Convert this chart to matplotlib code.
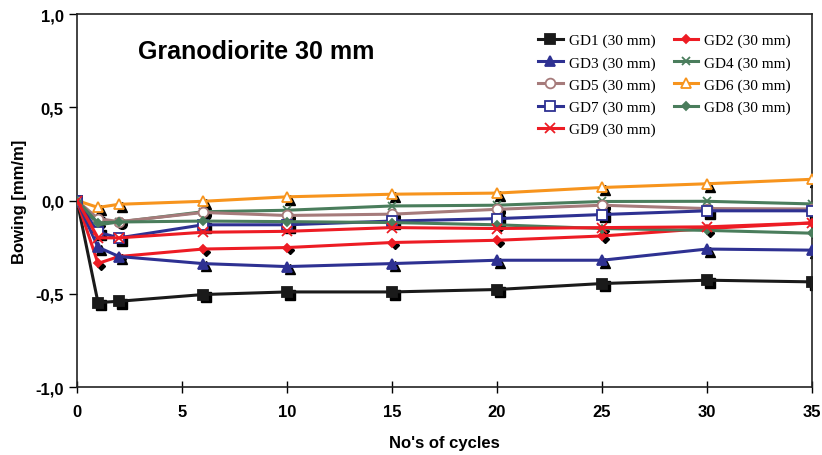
import matplotlib
matplotlib.use('Agg')
import matplotlib.pyplot as plt
import matplotlib.transforms as mtransforms
from matplotlib.ticker import FuncFormatter

cycles = [0, 1, 2, 6, 10, 15, 20, 25, 30, 35]
gd1 = [0, -0.547, -0.540, -0.504, -0.490, -0.490, -0.477, -0.445, -0.427, -0.436]
gd2 = [0, -0.337, -0.300, -0.260, -0.252, -0.225, -0.213, -0.190, -0.150, -0.120]
gd3 = [0, -0.250, -0.300, -0.338, -0.354, -0.338, -0.320, -0.320, -0.260, -0.266]
gd4 = [0, -0.130, -0.115, -0.060, -0.052, -0.029, -0.025, -0.005, -0.004, -0.018]
gd5 = [0, -0.097, -0.113, -0.064, -0.080, -0.073, -0.047, -0.025, -0.043, -0.045]
gd6 = [0, -0.037, -0.020, -0.004, 0.020, 0.034, 0.040, 0.070, 0.090, 0.114]
gd7 = [0, -0.170, -0.200, -0.130, -0.130, -0.110, -0.097, -0.075, -0.055, -0.055]
gd8 = [0, -0.120, -0.115, -0.110, -0.113, -0.118, -0.130, -0.150, -0.160, -0.175]
gd9 = [0, -0.200, -0.200, -0.170, -0.165, -0.145, -0.150, -0.145, -0.141, -0.120]

labels = ['GD1 (30 mm)', 'GD2 (30 mm)', 'GD3 (30 mm)', 'GD4 (30 mm)',
          'GD5 (30 mm)', 'GD6 (30 mm)', 'GD7 (30 mm)', 'GD8 (30 mm)',
          'GD9 (30 mm)']
series = [gd1, gd2, gd3, gd4, gd5, gd6, gd7, gd8, gd9]

# Stil je Reihe: Farbe, Marker, Füllung
styles = [
    ('#1a1a1a', 's', '#1a1a1a'),
    ('#ed1c24', 'D', '#ed1c24'),
    ('#2e3192', '^', '#2e3192'),
    ('#4a7d5c', 'x', 'none'),
    ('#a67b7b', 'o', 'white'),
    ('#f7941d', '^', 'white'),
    ('#2e3192', 's', 'white'),
    ('#4a7d5c', 'D', '#4a7d5c'),
    ('#ed1c24', 'x', 'none'),
]
sizes = [7, 4.5, 7, 6, 7, 7, 7, 4, 7]

fig = plt.figure(figsize=(8.22, 4.56), dpi=100)
ax = fig.add_axes([0.0937, 0.149, 0.894, 0.818])

# Schatten der Marker (leicht versetzt, schwarz)
shadow = ax.transData + mtransforms.ScaledTranslation(2 / 72, -2 / 72, fig.dpi_scale_trans)
for y, (c, m, fc), ms in zip(series, styles, sizes):
    if m == 'x':
        continue
    ax.plot(cycles[1:], y[1:], linestyle='none', marker=m, ms=ms,
            color='black', transform=shadow, zorder=2)

handles = []
for y, lab, (c, m, fc), ms in zip(series, labels, styles, sizes):
    h, = ax.plot(cycles, y, color=c, lw=2.2, marker=m, ms=ms, mfc=fc, mec=c,
                 mew=1.3, label=lab, zorder=3)
    handles.append(h)

ax.set_xlim(0, 35)
ax.set_ylim(-1.0, 1.0)
ax.set_xticks(range(0, 36, 5))
ax.set_yticks([-1.0, -0.5, 0.0, 0.5, 1.0])
ax.yaxis.set_major_formatter(FuncFormatter(lambda v, p: ('%.1f' % v).replace('.', ',')))
ax.tick_params(axis='x', direction='inout', length=8, width=1)
ax.tick_params(axis='y', direction='out', length=6, width=1)
ax.tick_params(labelsize=12)
for lab in ax.get_xticklabels() + ax.get_yticklabels():
    lab.set_fontweight('bold')
    lab.set_fontfamily('Liberation Sans')
ax.tick_params(axis='x', pad=8)
for sp in ax.spines.values():
    sp.set_linewidth(1.2)
    sp.set_color('#222222')

ax.set_xlabel("No's of cycles", fontsize=12, fontweight='bold',
              family='Liberation Sans', labelpad=12)
ax.set_ylabel('Bowing [mm/m]', fontsize=12, fontweight='bold',
              family='Liberation Sans', labelpad=6)

ax.text(0.083, 0.90, 'Granodiorite 30 mm', transform=ax.transAxes,
        fontsize=18, fontweight='bold', family='Liberation Sans', va='center')

# Legende zeilenweise sortiert (GD1 GD2 / GD3 GD4 / ...)
order = [0, 2, 4, 6, 8, 1, 3, 5, 7]
leg = ax.legend([handles[i] for i in order], [labels[i] for i in order],
                ncol=2, loc='upper right', bbox_to_anchor=(0.99, 0.985),
                frameon=False, prop={'family': 'Liberation Serif', 'size': 11},
                handlelength=1.6, columnspacing=1.2, labelspacing=0.55,
                handletextpad=0.4)

fig.savefig('out.png', dpi=100)
